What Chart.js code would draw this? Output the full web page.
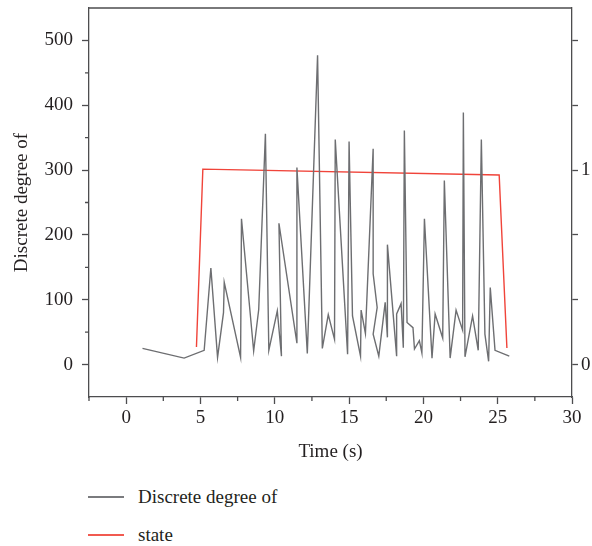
<!DOCTYPE html>
<html lang="en">
<head>
  <meta charset="UTF-8">
  <title>Discrete degree over time</title>
  <script src="https://cdn.jsdelivr.net/npm/chart.js"></script>
  <style>
    body { margin: 0; background: #fff; font-family: "Liberation Serif", serif; }
    #wrap { position: relative; width: 592px; height: 546px; }
    #box { position: absolute; left: 0; top: 0; width: 592px; height: 470px; }
    .key { position: absolute; left: 88px; height: 24px; display: flex; align-items: center; font-size: 19px; color: #231f20; }
    .key .line { display: inline-block; width: 36px; height: 1.5px; margin-right: 14px; }
  </style>
</head>
<body>
  <div id="wrap">
    <div id="box"><canvas id="chart"></canvas></div>
    <div class="key" style="top:485px"><span class="line" style="background:#7a7b7e"></span>Discrete degree of</div>
    <div class="key" style="top:523px"><span class="line" style="background:#f15a50"></span>state</div>
  </div>

  <script>
    // grey series: discrete degree (left axis)
    const degreeTime = [1.1, 3.9, 5.25, 5.7, 6.15, 6.55, 6.6, 7.7, 7.76, 8.58, 8.92, 9.37, 9.6, 10.17, 10.45, 10.28,
      11.49, 11.49, 12.19, 12.88, 13.2, 13.6, 14.02, 14.07, 14.9, 15.0, 15.23, 15.77, 15.81, 16.1,
      16.62, 16.62, 16.89, 16.62, 17.0, 17.43, 17.58, 17.58, 18.2, 18.2, 18.5, 18.65, 18.72, 18.9,
      19.3, 19.4, 19.73, 19.9, 20.07, 20.58, 20.79, 21.3, 21.41, 21.8, 22.2, 22.64, 22.69, 22.8,
      23.31, 23.69, 23.9, 24.14, 24.39, 24.5, 24.82, 25.78];
    const degreeValue = [25, 10, 22, 149, 11, 80, 127, 11, 225, 21, 85, 356, 22, 83, 13, 218,
      33, 304, 17, 477, 25, 77, 39, 347, 16, 344, 75, 13, 84, 48,
      333, 140, 88, 47, 13, 96, 42, 185, 13, 78, 94, 26, 361, 65,
      57, 24, 37, 18, 225, 10, 78, 41, 284, 10, 84, 53, 389, 12,
      75, 22, 347, 47, 5, 119, 22, 13];

    // red series: state (right axis)
    const stateTime = [4.73, 5.16, 25.1, 25.62];
    const stateValue = [0.09, 1.005, 0.975, 0.085];

    const xMajor = [0, 5, 10, 15, 20, 25, 30];
    const xMinor = [-2.5, 2.5, 7.5, 12.5, 17.5, 22.5, 27.5];
    const yMajor = [0, 100, 200, 300, 400, 500];
    const yMinor = [50, 150, 250, 350, 450];
    const stateTicks = [0, 1 / 3, 2 / 3, 1, 4 / 3, 5 / 3];

    const axisColor = "#4d4d4f";
    const textColor = "#231f20";
    const font = { family: "Liberation Serif", size: 19 };

    const pairs = (xs, ys) => xs.map((x, i) => ({ x: x, y: ys[i] }));
    const setTicks = list => scale => { scale.ticks = list.map(v => ({ value: v })); };

    // short minor ticks plus the closing top line
    const frame = {
      id: "frame",
      afterDraw(chart) {
        const ctx = chart.ctx;
        const x = chart.scales.x, y = chart.scales.y, a = chart.chartArea;
        ctx.save();
        ctx.strokeStyle = axisColor;
        ctx.lineWidth = 1.3;
        ctx.beginPath();
        xMinor.forEach(v => {
          const px = x.getPixelForValue(v);
          ctx.moveTo(px, a.bottom);
          ctx.lineTo(px, a.bottom + 4);
        });
        yMinor.forEach(v => {
          const py = y.getPixelForValue(v);
          ctx.moveTo(a.left, py);
          ctx.lineTo(a.left - 4, py);
        });
        ctx.moveTo(a.left, a.top);
        ctx.lineTo(a.right, a.top);
        ctx.stroke();
        ctx.restore();
      }
    };

    new Chart(document.getElementById("chart"), {
      type: "line",
      data: {
        datasets: [{
          label: "Discrete degree of",
          data: pairs(degreeTime, degreeValue),
          yAxisID: "y",
          borderColor: "#6d6e71",
          borderWidth: 1.4,
          pointRadius: 0,
          tension: 0
        }, {
          label: "state",
          data: pairs(stateTime, stateValue),
          yAxisID: "y2",
          borderColor: "#f0443a",
          borderWidth: 1.4,
          pointRadius: 0,
          tension: 0
        }]
      },
      options: {
        responsive: true,
        maintainAspectRatio: false,
        animation: false,
        layout: { padding: { top: 8, left: 0, right: 0, bottom: 0 } },
        plugins: { legend: { display: false }, tooltip: { enabled: false } },
        scales: {
          x: {
            type: "linear",
            min: -2.5,
            max: 30,
            afterBuildTicks: setTicks(xMajor),
            afterFit: s => { s.height = 73; s.paddingLeft = 0; s.paddingRight = 0; },
            grid: { drawOnChartArea: false, tickLength: 7, tickColor: axisColor, tickWidth: 1.3 },
            border: { color: axisColor, width: 1.3 },
            ticks: { color: textColor, font: font, padding: 3, maxRotation: 0 },
            title: { display: true, text: "Time (s)", color: textColor, font: font, padding: { top: 0, bottom: 7 } }
          },
          y: {
            position: "left",
            min: -50,
            max: 550,
            afterBuildTicks: setTicks(yMajor),
            afterFit: s => { s.width = 89; s.paddingTop = 0; s.paddingBottom = 0; },
            grid: { drawOnChartArea: false, tickLength: 7, tickColor: axisColor, tickWidth: 1.3 },
            border: { color: axisColor, width: 1.3 },
            ticks: { color: textColor, font: font, padding: 9 },
            title: { display: true, text: "Discrete degree of", color: textColor, font: font, padding: { top: 11, bottom: 0 } }
          },
          y2: {
            position: "right",
            min: -1 / 6,
            max: 11 / 6,
            afterBuildTicks: setTicks(stateTicks),
            afterFit: s => { s.width = 20; s.paddingTop = 0; s.paddingBottom = 0; },
            grid: { drawOnChartArea: false, tickLength: 6, tickColor: axisColor, tickWidth: 1.3 },
            border: { color: axisColor, width: 1.3 },
            ticks: {
              color: textColor,
              font: font,
              padding: 3,
              callback: v => (Math.abs(v) < 1e-6 ? "0" : Math.abs(v - 1) < 1e-6 ? "1" : "")
            }
          }
        }
      },
      plugins: [frame]
    });
  </script>
</body>
</html>
